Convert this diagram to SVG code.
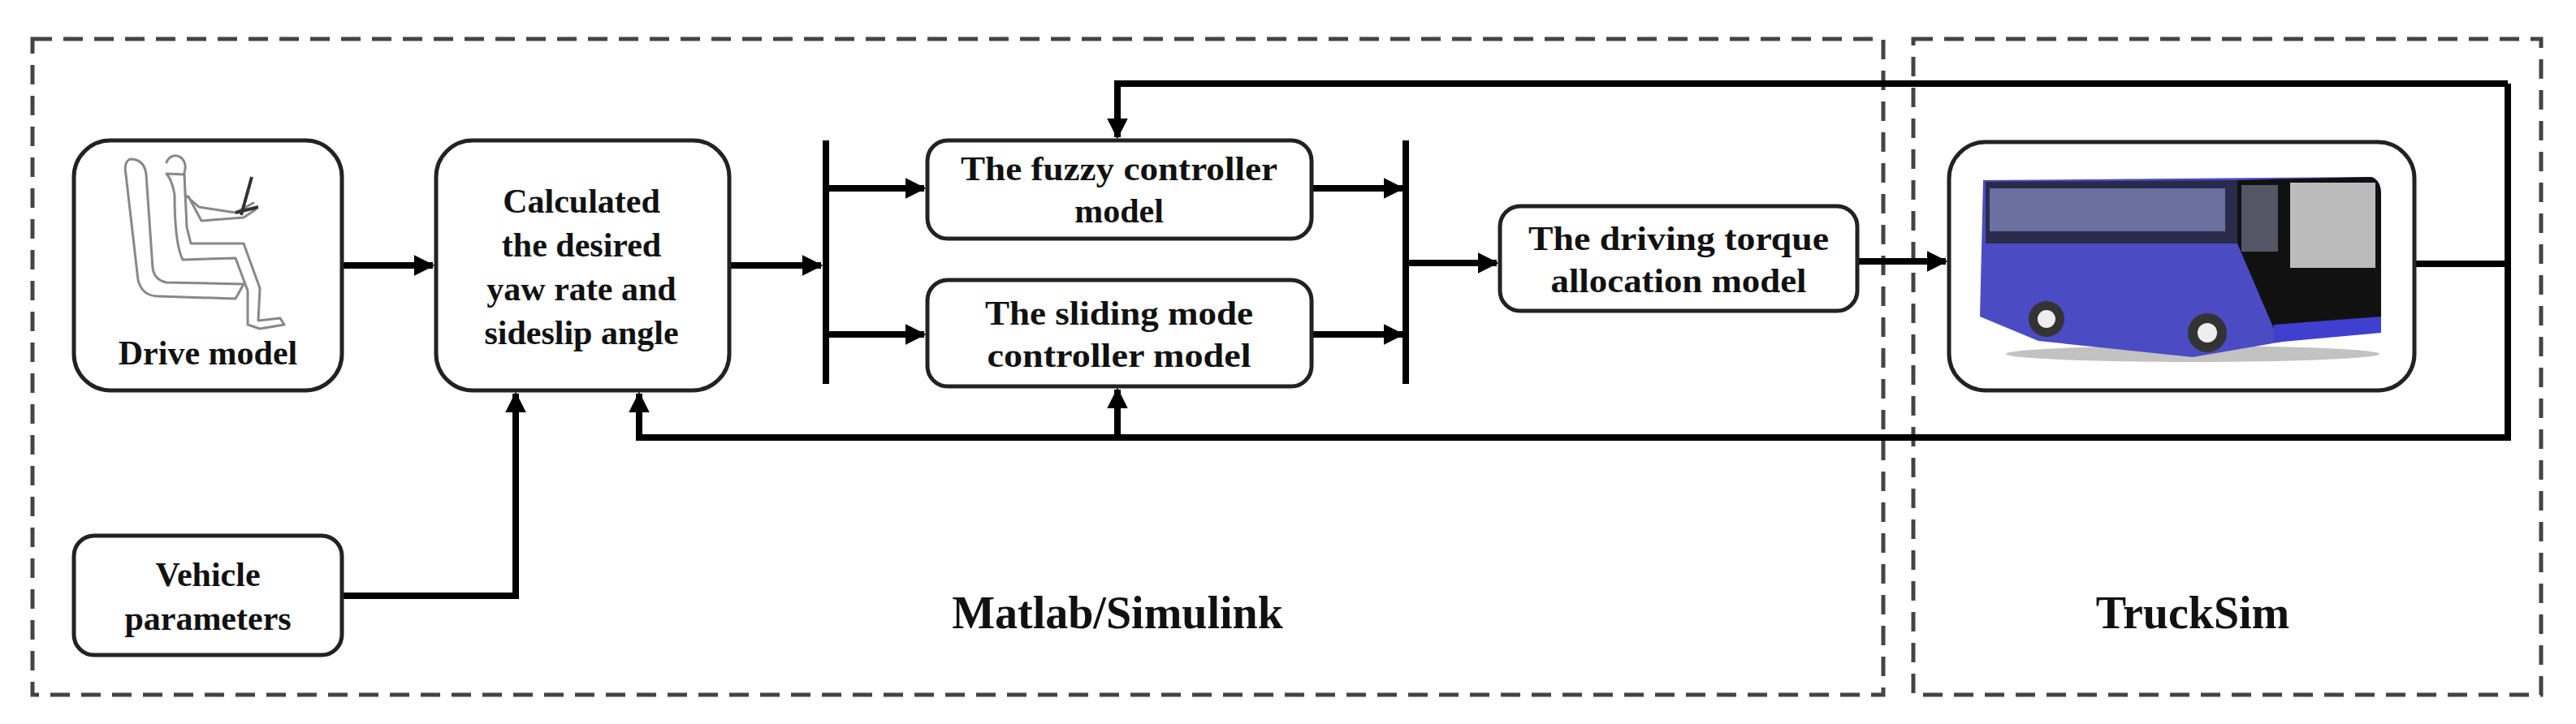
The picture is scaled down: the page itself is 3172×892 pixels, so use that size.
<svg xmlns="http://www.w3.org/2000/svg" width="3172" height="892" viewBox="0 0 3172 892">
<style>
.dash{fill:none;stroke:#444;stroke-width:5;stroke-dasharray:24 14}
.box{fill:#fff;stroke:#222;stroke-width:5}
.t{font-family:"Liberation Serif",serif;font-weight:bold;font-size:42px;fill:#111;text-anchor:middle}
.big{font-size:56px}
.c{fill:none;stroke:#000;stroke-width:8}
.bar{stroke:#000;stroke-width:8}
.fig{fill:none;stroke:#888;stroke-width:3;stroke-linejoin:round;stroke-linecap:round}
</style>
<defs>
<marker id="a" viewBox="0 0 10 10" refX="9" refY="5" markerWidth="3.2" markerHeight="3.2" orient="auto" markerUnits="strokeWidth"><path d="M0,0 L10,5 L0,10 z" fill="#000"/></marker>
</defs>
<rect width="3172" height="892" fill="#fff"/>
<g id="matlab"><rect class="dash" x="40" y="48" width="2279" height="808"/><text class="t big" x="1376" y="774">Matlab/Simulink</text></g>
<g id="trucksim"><rect class="dash" x="2356" y="48" width="773" height="808"/><text class="t big" x="2700" y="774">TruckSim</text></g>
<g id="connectors">
<line class="c" x1="421" y1="327" x2="533" y2="327" marker-end="url(#a)"/>
<line class="c" x1="898" y1="327" x2="1011" y2="327" marker-end="url(#a)"/>
<line class="bar" x1="1017" y1="173" x2="1017" y2="473"/>
<line class="bar" x1="1731" y1="173" x2="1731" y2="473"/>
<line class="c" x1="1017" y1="232" x2="1138" y2="232" marker-end="url(#a)"/>
<line class="c" x1="1017" y1="412" x2="1138" y2="412" marker-end="url(#a)"/>
<line class="c" x1="1615" y1="232" x2="1727" y2="232" marker-end="url(#a)"/>
<line class="c" x1="1615" y1="412" x2="1727" y2="412" marker-end="url(#a)"/>
<line class="c" x1="1731" y1="324" x2="1843" y2="324" marker-end="url(#a)"/>
<line class="c" x1="2287" y1="322" x2="2396" y2="322" marker-end="url(#a)"/>
<polyline class="c" points="2973,325 3088,325"/>
<polyline class="c" points="3088,103 3088,539 787,539 787,485" marker-end="url(#a)"/>
<polyline class="c" points="3088,103 1376,103 1376,169" marker-end="url(#a)"/>
<polyline class="c" points="1376,539 1376,480" marker-end="url(#a)"/>
<polyline class="c" points="421,734 635,734 635,485" marker-end="url(#a)"/>
</g>
<g id="drive">
<rect class="box" x="91" y="173" width="330" height="308" rx="45"/>
<path class="fig" d="M160,196 Q152,200 155,215 L170,345 Q175,365 195,365 L290,368 L300,350 L205,348 Q190,345 188,330 L180,215 Q178,196 160,196 Z"/>
<path class="fig" d="M205,200 a12,14 0 1 1 22,12 L228,240 L245,255 L290,262 L312,250 M227,215 L230,280 L235,300 L300,300 L320,355 L318,395 L345,392 L350,400 L320,405 L305,400 L305,358 L290,318 L225,320 Q215,300 215,240 Q212,222 205,214 Z M232,242 L248,272 L300,268 L315,258"/>
<path fill="none" stroke="#333" stroke-width="4" d="M310,218 L297,265 M290,262 L318,255"/>
<text class="t" x="256" y="449">Drive model</text>
</g>
<g id="calc">
<rect class="box" x="537" y="173" width="361" height="308" rx="45"/>
<text class="t" x="716" y="262">Calculated</text>
<text class="t" x="716" y="316">the desired</text>
<text class="t" x="716" y="370">yaw rate and</text>
<text class="t" x="716" y="424">sideslip angle</text>
</g>
<g id="vehicle">
<rect class="box" x="91" y="660" width="330" height="147" rx="25"/>
<text class="t" x="256" y="722">Vehicle</text>
<text class="t" x="256" y="776">parameters</text>
</g>
<g id="fuzzy">
<rect class="box" x="1142" y="173" width="473" height="121" rx="25"/>
<text class="t" x="1378" y="222" textLength="390" lengthAdjust="spacingAndGlyphs">The fuzzy controller</text>
<text class="t" x="1378" y="274">model</text>
</g>
<g id="sliding">
<rect class="box" x="1142" y="345" width="473" height="131" rx="25"/>
<text class="t" x="1378" y="400" textLength="330" lengthAdjust="spacingAndGlyphs">The sliding mode</text>
<text class="t" x="1378" y="452" textLength="325" lengthAdjust="spacingAndGlyphs">controller model</text>
</g>
<g id="torque">
<rect class="box" x="1847" y="254" width="440" height="129" rx="25"/>
<text class="t" x="2067" y="308" textLength="370" lengthAdjust="spacingAndGlyphs">The driving torque</text>
<text class="t" x="2067" y="360" textLength="315" lengthAdjust="spacingAndGlyphs">allocation model</text>
</g>
<g id="bus">
<rect class="box" x="2400" y="175" width="573" height="306" rx="45"/>
<ellipse cx="2700" cy="436" rx="230" ry="10" fill="#999" opacity="0.6"/>
<path d="M2442,222 L2920,218 Q2932,222 2932,240 L2932,400 L2700,440 L2510,420 L2438,390 Z" fill="#4b4bc4"/>
<path d="M2445,224 L2755,222 L2755,300 L2445,300 Z" fill="#2a2a4a"/>
<path d="M2450,232 L2740,232 L2740,285 L2450,285 Z" fill="#6a70a0"/>
<path d="M2755,222 L2920,218 Q2932,222 2932,240 L2932,395 L2800,405 L2755,300 Z" fill="#111"/>
<path d="M2820,225 L2925,225 L2925,330 L2820,330 Z" fill="#bbb"/>
<path d="M2760,228 L2805,228 L2805,310 L2760,310 Z" fill="#556"/>
<path d="M2800,400 L2932,390 L2932,410 L2800,422 Z" fill="#4040d0"/>
<circle cx="2520" cy="393" r="22" fill="#333"/><circle cx="2520" cy="393" r="11" fill="#eee"/>
<circle cx="2718" cy="410" r="24" fill="#333"/><circle cx="2718" cy="410" r="12" fill="#eee"/>
</g>
</svg>
